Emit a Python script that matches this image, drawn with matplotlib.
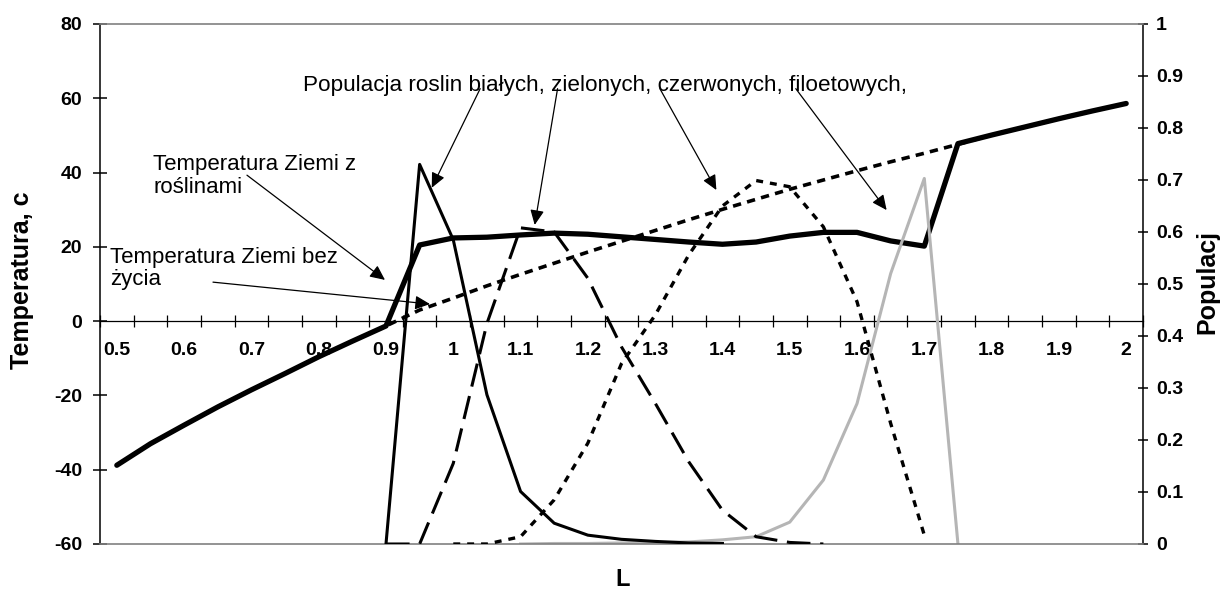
import matplotlib
matplotlib.use("Agg")
import matplotlib.pyplot as plt
import numpy as np

plt.rcParams['font.family'] = ['Liberation Sans', 'DejaVu Sans']
plt.rcParams['lines.scale_dashes'] = False
plt.rcParams['axes.unicode_minus'] = False

# luminosity steps (category axis)
L = [0.5, 0.55, 0.6, 0.65, 0.7, 0.75, 0.8, 0.85, 0.9, 0.95, 1.0, 1.05, 1.1, 1.15, 1.2, 1.25,
     1.3, 1.35, 1.4, 1.45, 1.5, 1.55, 1.6, 1.65, 1.7, 1.75, 1.8, 1.85, 1.9, 1.95, 2.0]

# temperature of the planet with plants and without life, deg C
temp_plants = [-38.8, -33.0, -28.0, -23.1, -18.5, -14.1, -9.6, -5.4, -1.3, 20.5, 22.4, 22.6,
               23.2, 23.7, 23.4, 22.7, 22.0, 21.3, 20.7, 21.3, 22.9, 23.9, 23.9, 21.6, 20.2,
               47.8, 50.1, 52.3, 54.5, 56.6, 58.6]
temp_bare = [-38.8, -33.0, -28.0, -23.1, -18.5, -14.1, -9.6, -5.4, -1.3, 3.0, 6.2, 9.5,
             12.6, 15.6, 18.6, 21.5, 24.4, 27.3, 30.1, 32.8, 35.5, 38.0, 40.5, 42.9, 45.2,
             47.6, 50.1, 52.3, 54.5, 56.6, 58.6]

# plant populations (fraction of surface)
white_L = [0.9, 0.95, 1.0, 1.05, 1.1, 1.15, 1.2, 1.25, 1.3, 1.35, 1.4]
white_pop = [0, 0.73, 0.585, 0.287, 0.101, 0.040, 0.017, 0.009, 0.005, 0.002, 0.001]

green_L = [0.9, 0.95, 1.0, 1.05, 1.1, 1.15, 1.2, 1.25, 1.3, 1.35, 1.4, 1.45, 1.5, 1.55]
green_pop = [0, 0, 0.155, 0.424, 0.608, 0.600, 0.511, 0.379, 0.271, 0.158, 0.065, 0.014, 0.003, 0]

red_L = [1.0, 1.05, 1.1, 1.15, 1.2, 1.25, 1.3, 1.35, 1.4, 1.45, 1.5, 1.55, 1.6, 1.65, 1.7]
red_pop = [0, 0, 0.014, 0.085, 0.194, 0.347, 0.44, 0.556, 0.650, 0.699, 0.687, 0.610, 0.466, 0.232, 0.017]

violet_L = [1.1, 1.15, 1.2, 1.25, 1.3, 1.35, 1.4, 1.45, 1.5, 1.55, 1.6, 1.65, 1.7, 1.75]
violet_pop = [0, 0.001, 0.001, 0.002, 0.003, 0.004, 0.008, 0.014, 0.042, 0.123, 0.27, 0.52, 0.703, 0]

x_labels = ['0.5', '0.6', '0.7', '0.8', '0.9', '1', '1.1', '1.2', '1.3', '1.4', '1.5',
            '1.6', '1.7', '1.8', '1.9', '2']

fig = plt.figure(figsize=(12.2, 5.89), dpi=100)
ax = fig.add_axes([100 / 1220, 45 / 589, 1043 / 1220, 520 / 589])
ax2 = ax.twinx()

half = (L[1] - L[0]) / 2
ax.set_xlim(L[0] - half, L[-1] + half)
ax.set_ylim(-60, 80)
ax2.set_ylim(0, 1)

# temperatures (left axis)
ax.plot(L, temp_bare, color='black', lw=2.6, linestyle=(0, (6, 4.5)), zorder=2)
ax.plot(L, temp_plants, color='black', lw=3.8, solid_joinstyle='round',
        solid_capstyle='round', zorder=3)

# populations (right axis)
ax2.plot(white_L, white_pop, color='black', lw=2.2, zorder=3)
ax2.plot(green_L, green_pop, color='black', lw=2.2, linestyle=(0, (17, 7)), zorder=3)
ax2.plot(red_L, red_pop, color='black', lw=2.4, linestyle=(0, (5, 5)), zorder=3)
ax2.plot(violet_L, violet_pop, color='#b5b5b5', lw=2.2, zorder=2)

# spines: category axis crosses at 0, frame in gray
ax.spines['bottom'].set_position(('data', 0))
ax.spines['bottom'].set_linewidth(0.9)
ax.spines['top'].set_visible(False)
ax.spines['right'].set_visible(False)
ax.spines['left'].set_linewidth(1.1)
ax2.spines['left'].set_visible(False)
ax2.spines['right'].set_linewidth(1.1)
ax2.spines['top'].set_color('#808080')
ax2.spines['top'].set_linewidth(1.2)
ax2.spines['bottom'].set_color('#808080')
ax2.spines['bottom'].set_linewidth(1.2)

# x: tick marks between categories, labels under every second category
bounds = [v - half for v in L] + [L[-1] + half]
ax.set_xticks(bounds)
ax.set_xticklabels([])
ax.set_xticks(L[::2], minor=True)
ax.set_xticklabels(x_labels, minor=True)
ax.tick_params(axis='x', which='major', direction='inout', length=8.6, width=0.9)
ax.tick_params(axis='x', which='minor', length=0, pad=15, labelsize=14)
for t in ax.get_xticklabels(minor=True):
    t.set_fontweight('bold')

ax.set_yticks([80, 60, 40, 20, 0, -20, -40, -60])
ax.tick_params(axis='y', direction='inout', length=10, width=1.1, pad=8, labelsize=14)
ax2.set_yticks([0, 0.1, 0.2, 0.3, 0.4, 0.5, 0.6, 0.7, 0.8, 0.9, 1])
ax2.set_yticklabels(['0', '0.1', '0.2', '0.3', '0.4', '0.5', '0.6', '0.7', '0.8', '0.9', '1'])
ax2.tick_params(axis='y', direction='inout', length=7.2, width=1.1, pad=5.8, labelsize=14)
for t in ax.get_yticklabels() + ax2.get_yticklabels():
    t.set_fontweight('bold')

fig.text(22 / 1220, 1 - 280 / 589, 'Temperatura, c', rotation=90, ha='center', va='center',
         fontsize=18, fontweight='bold')
fig.text(1207 / 1220, 1 - 282 / 589, 'Populacj', rotation=90, ha='center', va='center',
         fontsize=18, fontweight='bold')
fig.text(623 / 1220, 1 - 579 / 589, 'L', ha='center', va='center',
         fontsize=17, fontweight='bold')

# annotations
arrow = dict(arrowstyle='-|>,head_length=0.6,head_width=0.28', color='black', lw=0.9,
             shrinkA=0, shrinkB=0, mutation_scale=15)
ax.text(0.777, 62.0, 'Populacja roslin białych, zielonych, czerwonych, filoetowych,',
        fontsize=16.2, va='baseline')
ax.annotate('', xy=(0.968, 35.9), xytext=(1.040, 62.6), arrowprops=arrow)
ax.annotate('', xy=(1.121, 25.9), xytext=(1.155, 62.6), arrowprops=arrow)
ax.annotate('', xy=(1.391, 35.3), xytext=(1.307, 62.6), arrowprops=arrow)
ax.annotate('', xy=(1.644, 29.9), xytext=(1.509, 62.6), arrowprops=arrow)

ax.text(0.554, 34.5, 'Temperatura Ziemi z\nroślinami', fontsize=16, va='baseline',
        linespacing=1.1)
ax.annotate('', xy=(0.8985, 11.1), xytext=(0.6934, 39.3), arrowprops=arrow)

ax.text(0.490, 9.7, 'Temperatura Ziemi bez\nżycia', fontsize=16, va='baseline',
        linespacing=1.1)
ax.annotate('', xy=(0.9654, 4.6), xytext=(0.6429, 10.5), arrowprops=arrow)

fig.savefig('out.png', dpi=100)
